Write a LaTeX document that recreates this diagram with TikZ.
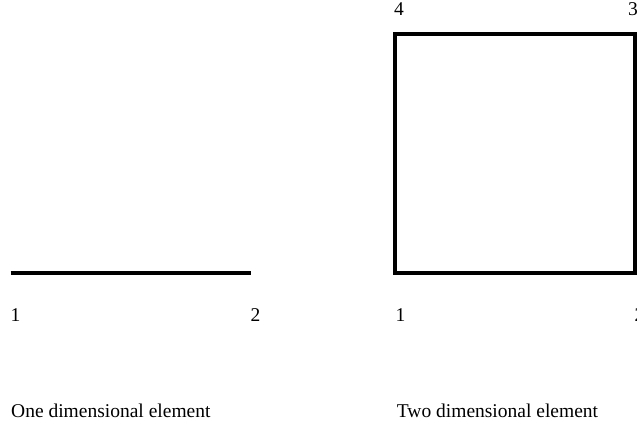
\documentclass[tikz,border=0pt]{standalone}
\usepackage{fontspec}
\setmainfont{Liberation Serif}
\begin{document}
\begin{tikzpicture}[x=1pt,y=1pt,
  lbl/.style={anchor=base west,inner sep=0pt,font=\fontsize{19.5}{22}\selectfont},
  elem/.style={line width=4.3pt,draw=black}]
\useasboundingbox (0,0) rectangle (637,427);
% one dimensional element
\coordinate (a1) at (10.5,154);
\coordinate (a2) at (250.5,154);
\draw[elem,line cap=butt] (a1) -- (a2);
\node[lbl] (la1) at (10.5,105.5) {1};
\node[lbl] (la2) at (250.5,105.5) {2};
\node[lbl] (ca) at (11,9) {One dimensional element};
% two dimensional element
\coordinate (b1) at (394.7,154);
\coordinate (b2) at (634.7,154);
\coordinate (b3) at (634.7,393);
\coordinate (b4) at (394.7,393);
\draw[elem,line width=4pt] (b1) -- (b2) -- (b3) -- (b4) -- cycle;
\node[lbl] (lb1) at (395.5,105.5) {1};
\node[lbl] (lb2) at (634.4,105.5) {2};
\node[lbl] (lb3) at (628,411.5) {3};
\node[lbl] (lb4) at (394,411.5) {4};
\node[lbl] (cb) at (396.7,9) {Two dimensional element};
\end{tikzpicture}
\end{document}
